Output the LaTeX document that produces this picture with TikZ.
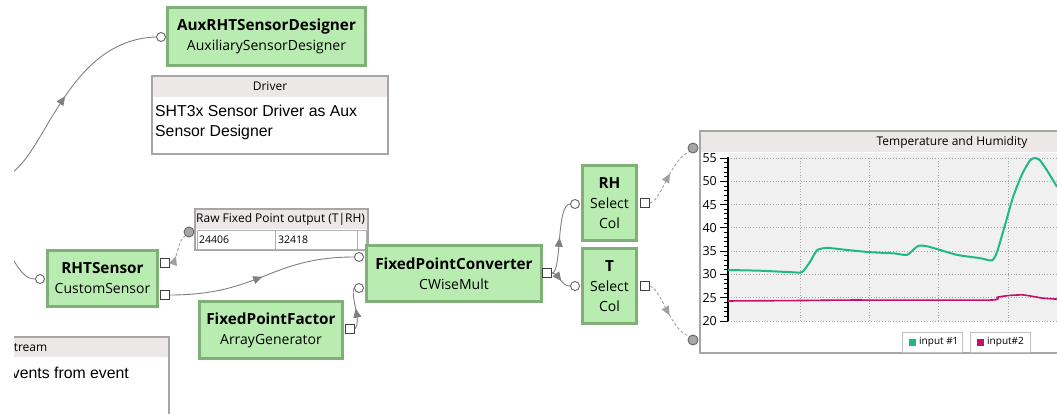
\documentclass[tikz,border=0pt]{standalone}
\usepackage{fontspec}
\setmainfont{Liberation Sans}
\newfontfamily\uifont{Open Sans}
\usetikzlibrary{arrows.meta,decorations.markings,positioning}

\definecolor{boxfill}{HTML}{B9ECB0}
\definecolor{boxline}{HTML}{80B078}
\definecolor{wire}{HTML}{808080}
\definecolor{wirelight}{HTML}{A0A0A0}
\definecolor{headfill}{HTML}{ECE8E8}
\definecolor{framegray}{HTML}{A6A6A6}
\definecolor{plotbg}{HTML}{F0F0F0}
\definecolor{humid}{HTML}{1DB98A}
\definecolor{temp}{HTML}{C2126E}

\tikzset{
  block/.style={draw=boxline, fill=boxfill, line width=3pt, align=center, inner sep=0pt,
    font=\uifont\fontsize{14}{20}\selectfont},
  inport/.style={circle, draw=black!60, fill=white, line width=0.9pt, minimum size=9pt, inner sep=0pt},
  outport/.style={rectangle, draw=black!75, fill=white, line width=0.9pt, minimum size=9pt, inner sep=0pt},
  probe/.style={circle, draw=black!60, fill=black!35, line width=0.9pt, minimum size=10pt, inner sep=0pt},
  note/.style={draw=framegray, line width=1.5pt},
  notehead/.style={fill=headfill},
  link/.style={color=wire, line width=0.9pt},
  flow/.style={link, postaction={decorate}, decoration={markings,
    mark=at position #1 with {\arrow{Triangle[length=9pt,width=8pt]}}}},
  flow/.default=0.5,
  probeflow/.style={flow=#1, color=wirelight, dash pattern=on 3pt off 2pt},
  probeflow/.default=0.5,
  gridline/.style={black!35, dotted, line width=0.8pt},
  small/.style={font=\uifont\fontsize{12}{14}\selectfont, inner sep=0pt},
}
\newcommand\btitle[1]{{\bfseries\fontsize{15.3}{20}\selectfont #1}}

\begin{document}
\begin{tikzpicture}[x=1pt, y=-1pt]
\useasboundingbox (0,0) rectangle (1057,413);
\clip (14,-10) rectangle (1070,420);

% notes
\draw[note, fill=white] (152,76) rectangle (388,154);
\fill[notehead] (152.75,76.75) rectangle (387.25,97);
\node[small] (driverHead) at (270,86.5) {Driver};
\node[anchor=north west, align=left, inner sep=0pt, font=\fontsize{15.8}{20}\selectfont] (driverText) at (155,104.5) {SHT3x Sensor Driver as Aux\\Sensor Designer};

\draw[note, fill=white] (195,209) rectangle (368,250);
\fill[notehead] (195.75,209.75) rectangle (367.25,229);
\node[small, anchor=west, font=\uifont\fontsize{12}{14}\selectfont] (rawHead) at (196,219.5) {Raw Fixed Point output (T|RH)};
\draw[black!30, line width=0.8pt] (197,230) rectangle (366,249) (275,230) -- (275,249) (357,230) -- (357,249);
\node[small, anchor=west, font=\uifont\fontsize{10.5}{12}\selectfont] (rawA) at (199,240) {24406};
\node[small, anchor=west, font=\uifont\fontsize{10.5}{12}\selectfont] (rawB) at (278,240) {32418};

\draw[note, fill=white] (-5,337) rectangle (169,420);
\fill[notehead] (-5,337.75) rectangle (168.25,357);
\node[small, anchor=west] (streamHead) at (7,347.5) {Stream};
\node[anchor=base west, inner sep=0pt, font=\fontsize{15.8}{20}\selectfont] (streamText) at (3,378) {events from event};

% chart panel
\draw[note, fill=white] (700,131) rectangle (1065,353);
\fill[notehead] (700.75,131.75) rectangle (1065,152);
\node[small] (chartTitle) at (952,142) {Temperature and Humidity};
\begin{scope}[shift={(0,321)}, yscale=-4.657]
  \fill[plotbg] (728,0) rectangle (1057,36);
  \foreach \v in {0,5,...,35} \draw[gridline] (728,\v) -- (1057,\v);
  \foreach \gx in {800,869,938,1008} \draw[gridline] (\gx,0) -- (\gx,35);
  \foreach \v in {0,...,35} \draw[black, line width=0.8pt] (724,\v) -- (728,\v);
  \foreach \v [evaluate=\v as \lab using int(\v+20)] in {0,5,...,35} {
    \draw[black, line width=0.8pt] (720,\v) -- (728,\v);
    \node[small, anchor=east, font=\uifont\fontsize{12.5}{14}\selectfont] (ylab\lab) at (717,\v) {\lab};
  }
  \draw[black, line width=1.2pt] (728,-0.1) -- (728,35.2);
  \draw[humid, line width=2pt, line join=round] plot[smooth, tension=0.35] coordinates {
    (728,10.95) (760,10.8) (790,10.5) (802,10.5) (810,12.7) (817,15.2) (827,15.7) (845,15.3)
    (869,14.8) (895,14.5) (907,14.2) (918,16.1) (928,16.0) (957,14.2) (980,13.5) (992,13.0)
    (997,14.8) (1005,20.6) (1013,26.6) (1022,31.5) (1030,34.5) (1035,35) (1040,34.5)
    (1048,32) (1057,28.8)};
  \draw[temp, line width=1.6pt, line join=round] plot[smooth, tension=0.35] coordinates {
    (728,4.3) (802,4.4) (850,4.5) (990,4.5) (997,5.1) (1010,5.5) (1023,5.6) (1035,5.2)
    (1043,4.9) (1057,4.7)};
\end{scope}
\draw[black!25, line width=0.8pt] (902,332) rectangle (962,352) (970,332) rectangle (1030,352);
\fill[humid] (909,339) rectangle (916,346);
\fill[temp] (977,339) rectangle (984,346);
\node[small, anchor=west, font=\uifont\fontsize{10}{12}\selectfont] (legA) at (919,342.5) {input \#1};
\node[small, anchor=west, font=\uifont\fontsize{10}{12}\selectfont] (legB) at (987,342.5) {input\#2};

% blocks
\node[block, minimum width=198pt, minimum height=58pt] (aux) at (266.5,36.5)
  {\btitle{AuxRHTSensorDesigner}\\AuxiliarySensorDesigner};
\node[block, minimum width=110pt, minimum height=56pt] (rht) at (102.5,278.5)
  {\btitle{RHTSensor}\\CustomSensor};
\node[block, minimum width=143pt, minimum height=57pt] (fpf) at (271,330)
  {\btitle{FixedPointFactor}\\ArrayGenerator};
\node[block, minimum width=175pt, minimum height=56pt] (fpc) at (454,273.5)
  {\btitle{FixedPointConverter}\\CWiseMult};
\node[block, minimum width=54pt, minimum height=75pt] (rh) at (609.5,203)
  {\btitle{RH}\\Select\\Col};
\node[block, minimum width=54pt, minimum height=75pt] (t) at (609.5,286)
  {\btitle{T}\\Select\\Col};

% ports
\node[inport] (auxIn) at (161,37) {};
\node[inport] (rhtIn) at (40,279) {};
\node[outport] (rhtOutRaw) at (165,263) {};
\node[outport] (rhtOut) at (165,295) {};
\node[inport] (fpcInA) at (359,257) {};
\node[inport] (fpcInB) at (359,288) {};
\node[outport] (fpcOut) at (547,273) {};
\node[outport] (fpfOut) at (350,329) {};
\node[inport] (rhIn) at (575,204) {};
\node[outport] (rhOut) at (645,203) {};
\node[inport] (tIn) at (575,286) {};
\node[outport] (tOut) at (645,286) {};
\node[probe] (rawProbe) at (189,232) {};
\node[probe] (chartProbeA) at (693,148) {};
\node[probe] (chartProbeB) at (693,340) {};

% connectors
\coordinate (auxSrc) at (6,176);
\coordinate (rhtSrc) at (10,254);
\draw[flow=0.47] (auxSrc) .. controls (45,160) and (65,40) .. (auxIn.west);
\draw[link] (rhtSrc) .. controls (20,272) and (26,279) .. (rhtIn.west);
\draw[probeflow=0.3] (rhtOutRaw.east) .. controls (178,263) and (177,240) .. (rawProbe.south west);
\draw[flow] (rhtOut.east) .. controls (260,295) and (270,257) .. (fpcInA.west);
\draw[flow] (fpfOut.east) .. controls (362,322) and (350,295) .. (fpcInB.west);
\draw[flow] (fpcOut.east) .. controls (562,273) and (556,204) .. (rhIn.west);
\draw[flow=0.55] (fpcOut.east) .. controls (560,273) and (560,286) .. (tIn.west);
\draw[probeflow=0.55] (rhOut.east) .. controls (662,200) and (670,160) .. (chartProbeA.south west);
\draw[probeflow=0.55] (tOut.east) .. controls (662,290) and (670,330) .. (chartProbeB.north west);
\end{tikzpicture}
\end{document}
